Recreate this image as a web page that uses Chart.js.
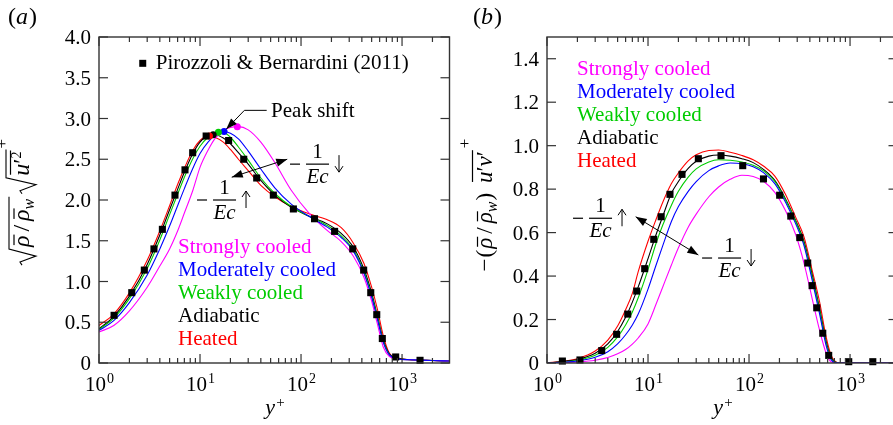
<!DOCTYPE html>
<html>
<head>
<meta charset="utf-8">
<script src="https://cdn.jsdelivr.net/npm/chart.js@4.4.1/dist/chart.umd.min.js"></script>
<style>
  html, body { margin: 0; padding: 0; background: #fff; width: 893px; height: 425px; overflow: hidden; position: relative; }
  #chartA { position: absolute; left: 0; top: 0; }
  #chartB { position: absolute; left: 455px; top: 0; }
</style>
</head>
<body>
<canvas id="chartA" width="455" height="425"></canvas>
<canvas id="chartB" width="450" height="425"></canvas>
<script>
// ---- data ----
const caseNames = ['Strongly cooled', 'Moderately cooled', 'Weakly cooled', 'Adiabatic', 'Heated'];
const caseColors = ['#ff00ff', '#0000ff', '#00cc00', '#000000', '#ff0000'];

// panel (a): sqrt(rho/rho_w) u'rms
const yPlusA     = [1, 1.4, 2, 3, 4, 5, 6, 7, 8.5, 10, 12, 14, 17, 20, 24, 30, 40, 55, 80, 120, 180, 250, 330, 420, 500, 570, 650, 750, 900, 1200, 2000, 2950];
const strongA    = [0.38, 0.46, 0.64, 0.93, 1.19, 1.40, 1.62, 1.84, 2.12, 2.40, 2.61, 2.75, 2.85, 2.89, 2.90, 2.86, 2.71, 2.46, 2.12, 1.84, 1.63, 1.49, 1.31, 1.05, 0.76, 0.48, 0.20, 0.08, 0.05, 0.04, 0.03, 0.025];
const moderateA  = [0.40, 0.52, 0.74, 1.08, 1.40, 1.68, 1.93, 2.14, 2.39, 2.57, 2.71, 2.79, 2.84, 2.82, 2.75, 2.60, 2.38, 2.15, 1.95, 1.80, 1.67, 1.54, 1.37, 1.10, 0.81, 0.54, 0.26, 0.10, 0.05, 0.04, 0.03, 0.025];
const weakA      = [0.41, 0.55, 0.79, 1.16, 1.51, 1.82, 2.07, 2.28, 2.51, 2.66, 2.77, 2.82, 2.83, 2.77, 2.65, 2.49, 2.27, 2.08, 1.92, 1.80, 1.69, 1.56, 1.39, 1.12, 0.83, 0.56, 0.27, 0.10, 0.05, 0.04, 0.03, 0.025];
const adiabaticA = [0.42, 0.57, 0.82, 1.21, 1.57, 1.88, 2.13, 2.34, 2.57, 2.71, 2.79, 2.80, 2.76, 2.69, 2.58, 2.44, 2.24, 2.06, 1.91, 1.80, 1.71, 1.59, 1.42, 1.15, 0.86, 0.58, 0.29, 0.11, 0.06, 0.04, 0.03, 0.025];
const heatedA    = [0.46, 0.60, 0.86, 1.26, 1.62, 1.93, 2.19, 2.39, 2.61, 2.73, 2.785, 2.77, 2.71, 2.62, 2.50, 2.36, 2.18, 2.04, 1.92, 1.83, 1.76, 1.66, 1.47, 1.22, 0.93, 0.66, 0.34, 0.12, 0.06, 0.04, 0.03, 0.025];
// peak locations (strongly, moderately, weakly, adiabatic, heated)
const peakYPlus = [23.4, 17.3, 15.2, 13.5, 12.4];
const peakValue = [2.90, 2.84, 2.83, 2.80, 2.785];
// Pirozzoli & Bernardini (2011)
const refYPlusA = [1.41, 2.11, 2.81, 3.5, 4.24, 5.65, 7.1, 8.46, 11.5, 19.2, 27.1, 36.4, 53.2, 84, 136, 215, 325, 417, 490, 562, 638, 865, 1507];
const refValueA = [0.585, 0.863, 1.14, 1.40, 1.64, 2.06, 2.37, 2.58, 2.785, 2.73, 2.50, 2.27, 2.06, 1.89, 1.77, 1.615, 1.40, 1.14, 0.863, 0.593, 0.30, 0.074, 0.033];

// panel (b): -(rho/rho_w) u'v'
const yPlusB     = [1, 1.5, 2, 3, 4, 5, 6, 7, 8, 10, 12, 14, 17, 20, 25, 30, 40, 50, 65, 85, 110, 140, 180, 230, 290, 350, 420, 500, 580, 650, 720, 800, 1000, 2000, 2950];
const strongB    = [0, 0.002, 0.005, 0.013, 0.025, 0.042, 0.062, 0.087, 0.115, 0.18, 0.27, 0.35, 0.45, 0.53, 0.625, 0.685, 0.765, 0.81, 0.845, 0.864, 0.858, 0.835, 0.785, 0.70, 0.59, 0.46, 0.30, 0.15, 0.045, 0.005, 0, 0, 0, 0, 0];
const moderateB  = [0, 0.004, 0.009, 0.026, 0.052, 0.088, 0.13, 0.175, 0.225, 0.34, 0.45, 0.54, 0.65, 0.72, 0.79, 0.835, 0.885, 0.907, 0.92, 0.917, 0.903, 0.875, 0.825, 0.74, 0.64, 0.54, 0.385, 0.225, 0.08, 0.015, 0.002, 0, 0, 0, 0];
const weakB      = [0, 0.006, 0.013, 0.036, 0.072, 0.12, 0.175, 0.235, 0.30, 0.43, 0.55, 0.635, 0.725, 0.79, 0.855, 0.893, 0.925, 0.935, 0.933, 0.925, 0.91, 0.883, 0.835, 0.75, 0.65, 0.55, 0.40, 0.24, 0.09, 0.02, 0.003, 0, 0, 0, 0];
const adiabaticB = [0, 0.008, 0.016, 0.045, 0.088, 0.145, 0.21, 0.28, 0.35, 0.48, 0.59, 0.675, 0.78, 0.835, 0.895, 0.928, 0.952, 0.957, 0.952, 0.94, 0.922, 0.89, 0.84, 0.755, 0.655, 0.56, 0.41, 0.25, 0.10, 0.025, 0.004, 0, 0, 0, 0];
const heatedB    = [0, 0.009, 0.02, 0.055, 0.105, 0.17, 0.245, 0.32, 0.42, 0.56, 0.66, 0.74, 0.825, 0.875, 0.93, 0.958, 0.978, 0.98, 0.97, 0.955, 0.935, 0.905, 0.86, 0.775, 0.67, 0.58, 0.43, 0.28, 0.12, 0.035, 0.006, 0, 0, 0, 0];
const refYPlusB = [1.42, 2.12, 3.48, 4.89, 6.3, 7.73, 9.27, 11.4, 13.5, 16.5, 21.7, 31.5, 52.8, 86.6, 139, 201, 259, 318, 381, 421, 468, 537, 615, 971, 1680];
const refValueB = [0.009, 0.014, 0.057, 0.132, 0.225, 0.331, 0.434, 0.569, 0.673, 0.776, 0.868, 0.940, 0.954, 0.908, 0.847, 0.772, 0.676, 0.577, 0.460, 0.356, 0.254, 0.137, 0.035, 0.006, 0.006];

const xDecades = [1, 10, 100, 1000];
const xExponents = ['0', '1', '2', '3'];
const yTicksA = [0, 0.5, 1.0, 1.5, 2.0, 2.5, 3.0, 3.5, 4.0];
const yTicksB = [0, 0.2, 0.4, 0.6, 0.8, 1.0, 1.2, 1.4];

const serif = '"Liberation Serif", "Times New Roman", serif';

// ---- helpers ----
function pts(xs, ys) { return xs.map((x, i) => ({ x: x, y: ys[i] })); }

function curve(i, xs, ys) {
  return {
    label: caseNames[i], data: pts(xs, ys),
    borderColor: caseColors[i], backgroundColor: caseColors[i],
    borderWidth: 1.1, pointRadius: 0, fill: false,
    cubicInterpolationMode: 'monotone'
  };
}

function refMarks(xs, ys) {
  return {
    label: 'Pirozzoli & Bernardini (2011)', data: pts(xs, ys),
    showLine: false, pointStyle: 'rect', pointRadius: 5,
    pointBackgroundColor: '#000', pointBorderWidth: 0, clip: false
  };
}

function line(ctx, x1, y1, x2, y2) {
  ctx.beginPath(); ctx.moveTo(x1, y1); ctx.lineTo(x2, y2); ctx.stroke();
}

function head(ctx, xf, yf, xt, yt) {
  const a = Math.atan2(yt - yf, xt - xf), L = 11, W = 4;
  ctx.beginPath();
  ctx.moveTo(xt, yt);
  ctx.lineTo(xt - L * Math.cos(a) + W * Math.sin(a), yt - L * Math.sin(a) - W * Math.cos(a));
  ctx.lineTo(xt - L * Math.cos(a) - W * Math.sin(a), yt - L * Math.sin(a) + W * Math.cos(a));
  ctx.closePath(); ctx.fill();
}

// "- 1/Ec" with an up or down arrow; x0 = left of minus, yb = fraction bar
function ecLabel(ctx, x0, yb, up) {
  ctx.save();
  ctx.fillStyle = '#000'; ctx.strokeStyle = '#000'; ctx.lineWidth = 1;
  ctx.textAlign = 'center'; ctx.textBaseline = 'alphabetic';
  ctx.fillRect(x0, yb - 0.6, 10, 1.2);
  ctx.fillRect(x0 + 16, yb - 0.6, 23, 1.2);
  ctx.font = '21px ' + serif;
  ctx.fillText('1', x0 + 27.5, yb - 6);
  ctx.font = 'italic 21px ' + serif;
  ctx.fillText('Ec', x0 + 27.5, yb + 19);
  const ax = x0 + 49, t = yb - 9, b = yb + 8;
  line(ctx, ax, t, ax, b);
  if (up) { line(ctx, ax - 4, t + 6, ax, t); line(ctx, ax + 4, t + 6, ax, t); }
  else { line(ctx, ax - 4, b - 6, ax, b); line(ctx, ax + 4, b - 6, ax, b); }
  ctx.restore();
}

function frame(chart, yTicks) {
  const { ctx, chartArea: a, scales: { x, y } } = chart;
  ctx.save();
  ctx.strokeStyle = '#333'; ctx.lineWidth = 1.4;
  ctx.strokeRect(a.left, a.top, a.right - a.left, a.bottom - a.top);
  ctx.lineWidth = 1.2;
  xDecades.forEach(d => {
    for (let m = 1; m <= 9; m++) {
      const v = m * d;
      if (v > x.max) break;
      const px = x.getPixelForValue(v), len = m === 1 ? 9 : 5;
      line(ctx, px, a.bottom, px, a.bottom - len);
      line(ctx, px, a.top, px, a.top + len);
    }
  });
  yTicks.forEach(v => {
    const py = y.getPixelForValue(v);
    line(ctx, a.left, py, a.left + 9, py);
    line(ctx, a.right, py, a.right - 9, py);
  });
  ctx.fillStyle = '#000';
  ctx.textBaseline = 'alphabetic';
  ctx.font = '21px ' + serif;
  ctx.textAlign = 'right';
  yTicks.forEach(v => {
    ctx.fillText(v === 0 ? '0' : v.toFixed(1), a.left - 8, y.getPixelForValue(v) + 7);
  });
  ctx.textAlign = 'left';
  xDecades.forEach((d, i) => {
    const px = x.getPixelForValue(d);
    ctx.font = '21px ' + serif;
    const w1 = ctx.measureText('10').width;
    ctx.font = '14px ' + serif;
    const w2 = ctx.measureText(xExponents[i]).width;
    const x0 = px - (w1 + w2) / 2;
    ctx.font = '21px ' + serif;
    ctx.fillText('10', x0, a.bottom + 28);
    ctx.font = '14px ' + serif;
    ctx.fillText(xExponents[i], x0 + w1 + 1, a.bottom + 20);
  });
  // x title y+
  const cx = (a.left + a.right) / 2;
  ctx.font = 'italic 22px ' + serif;
  ctx.fillText('y', cx - 9, a.bottom + 51);
  ctx.font = '15px ' + serif;
  ctx.fillText('+', cx + 2, a.bottom + 44);
  ctx.restore();
}

function panelLabel(ctx, x, letter) {
  ctx.save();
  ctx.fillStyle = '#000'; ctx.textAlign = 'left'; ctx.textBaseline = 'alphabetic';
  ctx.font = '24px ' + serif;
  ctx.fillText('(', x, 24);
  let u = x + ctx.measureText('(').width;
  ctx.font = 'italic 24px ' + serif;
  ctx.fillText(letter, u, 24);
  u += ctx.measureText(letter).width + 1;
  ctx.font = '24px ' + serif;
  ctx.fillText(')', u, 24);
  ctx.restore();
}

function legendText(ctx, x, yb) {
  ctx.save();
  ctx.font = '21px ' + serif; ctx.textAlign = 'left'; ctx.textBaseline = 'alphabetic';
  caseNames.forEach((n, i) => { ctx.fillStyle = caseColors[i]; ctx.fillText(n, x, yb + i * 23); });
  ctx.restore();
}

// rotated math titles, laid out twice: once to measure, once to draw
function rotatedTitle(ctx, cx, cy, layout) {
  ctx.save();
  ctx.translate(cx, cy); ctx.rotate(-Math.PI / 2);
  ctx.fillStyle = '#000'; ctx.strokeStyle = '#000'; ctx.lineWidth = 1.1;
  ctx.textAlign = 'left'; ctx.textBaseline = 'alphabetic';
  const w = layout(false);
  ctx.translate(-w / 2, 0);
  layout(true);
  ctx.restore();
}

function mathWriter(ctx, draw) {
  const st = { u: 0 };
  st.txt = (s, font, dv) => {
    ctx.font = font;
    if (draw) ctx.fillText(s, st.u, dv || 0);
    st.u += ctx.measureText(s).width;
  };
  st.bar = (u1, u2, v) => { if (draw) ctx.fillRect(u1, v - 0.6, u2 - u1, 1.2); };
  st.rad = (u1, u2, v) => {
    if (!draw) return;
    ctx.beginPath();
    ctx.moveTo(u1, -7); ctx.lineTo(u1 + 3, -9); ctx.lineTo(u1 + 9, 7);
    ctx.lineTo(u1 + 16, v); ctx.lineTo(u2, v); ctx.stroke();
  };
  return st;
}

function titleA(ctx) {
  rotatedTitle(ctx, 29, 202, draw => {
    const fI = 'italic 24px ' + serif, fR = '24px ' + serif;
    const m = mathWriter(ctx, draw);
    const r1 = m.u; m.u += 18;
    let s = m.u; m.txt('ρ', fI); m.bar(s + 2, m.u + 1, -15);
    m.u += 4; m.txt('/', fR); m.u += 4;
    s = m.u; m.txt('ρ', fI); m.bar(s + 2, m.u + 1, -15);
    m.txt('w', 'italic 16px ' + serif, 5);
    m.rad(r1, m.u + 2, -20);
    m.u += 5;
    const r2 = m.u; m.u += 18;
    s = m.u; m.txt('u', fI); m.txt('′', fR); m.txt('2', '14px ' + serif, -8);
    m.bar(s + 1, m.u + 1, -18.5);
    m.rad(r2, m.u + 2, -23);
    m.u += 3; m.txt('+', '17px ' + serif, -22);
    return m.u;
  });
}

function titleB(ctx) {
  rotatedTitle(ctx, 37, 205, draw => {
    const fI = 'italic 23px ' + serif, fR = '23px ' + serif;
    const m = mathWriter(ctx, draw);
    m.txt('−', fR); m.u += 1;
    m.txt('(', fR); m.u += 1;
    let s = m.u; m.txt('ρ', fI); m.bar(s + 2, m.u + 1, -14.5);
    m.u += 4; m.txt('/', fR); m.u += 4;
    s = m.u; m.txt('ρ', fI); m.bar(s + 2, m.u + 1, -14.5);
    m.txt('w', 'italic 16px ' + serif, 5);
    m.u += 1; m.txt(')', fR);
    m.u += 10;
    s = m.u; m.txt('u', fI); m.txt('′', fR); m.txt('v', fI); m.txt('′', fR);
    m.bar(s + 1, m.u + 1, -19.5);
    m.u += 3; m.txt('+', '17px ' + serif, -22);
    return m.u;
  });
}

// ---- panel (a) ----
const decorA = {
  id: 'decorA',
  afterDatasetsDraw(chart) {
    const { ctx, scales: { x, y } } = chart;
    const P = (vx, vy) => [x.getPixelForValue(vx), y.getPixelForValue(vy)];
    frame(chart, yTicksA);
    ctx.save();
    ctx.fillStyle = '#000'; ctx.strokeStyle = '#000'; ctx.lineWidth = 1;
    // reference legend entry
    const [mx, my] = P(2.71, 3.677);
    ctx.fillRect(mx - 3.5, my - 3.5, 7, 7);
    ctx.font = '21px ' + serif; ctx.textAlign = 'left'; ctx.textBaseline = 'alphabetic';
    ctx.fillText('Pirozzoli & Bernardini (2011)', mx + 13, my + 6);
    // peak shift
    const [tx, ty] = P(50.5, 3.022);
    ctx.fillText('Peak shift', tx, ty);
    const p0 = P(45.7, 3.10), p1 = P(27.5, 3.10), p2 = P(18.2, 2.87);
    ctx.beginPath(); ctx.moveTo(p0[0], p0[1]); ctx.lineTo(p1[0], p1[1]); ctx.lineTo(p2[0], p2[1]); ctx.stroke();
    head(ctx, p1[0], p1[1], p2[0], p2[1]);
    // double arrow
    const a1 = P(20.6, 2.28), a2 = P(73, 2.50);
    line(ctx, a1[0], a1[1], a2[0], a2[1]);
    head(ctx, a1[0], a1[1], a2[0], a2[1]);
    head(ctx, a2[0], a2[1], a1[0], a1[1]);
    const e1 = P(77.8, 2.44), e2 = P(9.34, 2.0);
    ecLabel(ctx, e1[0], e1[1], false);
    ecLabel(ctx, e2[0], e2[1], true);
    ctx.restore();
    const [lx, ly] = P(6.06, 1.35);
    legendText(ctx, lx, ly);
    titleA(ctx);
    panelLabel(ctx, 8, 'a');
  }
};

const peaks = {
  label: 'peaks', data: pts(peakYPlus, peakValue), showLine: false,
  pointRadius: 3.5, pointBorderWidth: 0, pointBackgroundColor: caseColors.slice()
};

new Chart(document.getElementById('chartA'), {
  type: 'line',
  data: {
    datasets: [
      refMarks(refYPlusA, refValueA),
      peaks,
      curve(1, yPlusA, moderateA),
      curve(0, yPlusA, strongA),
      curve(2, yPlusA, weakA),
      curve(3, yPlusA, adiabaticA),
      curve(4, yPlusA, heatedA)
    ]
  },
  options: {
    responsive: false, animation: false, events: [],
    layout: { padding: { left: 99, top: 37, right: 5.5, bottom: 62 } },
    plugins: { legend: { display: false }, tooltip: { enabled: false } },
    scales: {
      x: { type: 'logarithmic', min: 1, max: 2950, display: false },
      y: { type: 'linear', min: 0, max: 4, display: false }
    }
  },
  plugins: [decorA]
});

// ---- panel (b) ----
const decorB = {
  id: 'decorB',
  afterDatasetsDraw(chart) {
    const { ctx, scales: { x, y } } = chart;
    const P = (vx, vy) => [x.getPixelForValue(vx), y.getPixelForValue(vy)];
    frame(chart, yTicksB);
    ctx.save();
    ctx.fillStyle = '#000'; ctx.strokeStyle = '#000'; ctx.lineWidth = 1;
    const a1 = P(7.55, 0.673), a2 = P(31.5, 0.497);
    line(ctx, a1[0], a1[1], a2[0], a2[1]);
    head(ctx, a1[0], a1[1], a2[0], a2[1]);
    head(ctx, a2[0], a2[1], a1[0], a1[1]);
    const e1 = P(1.81, 0.666), e2 = P(34.3, 0.483);
    ecLabel(ctx, e1[0], e1[1], true);
    ecLabel(ctx, e2[0], e2[1], false);
    ctx.restore();
    const [lx, ly] = P(1.98, 1.323);
    legendText(ctx, lx, ly);
    titleB(ctx);
    panelLabel(ctx, 18, 'b');
  }
};

new Chart(document.getElementById('chartB'), {
  type: 'line',
  data: {
    datasets: [
      refMarks(refYPlusB, refValueB),
      curve(1, yPlusB, moderateB),
      curve(0, yPlusB, strongB),
      curve(2, yPlusB, weakB),
      curve(3, yPlusB, adiabaticB),
      curve(4, yPlusB, heatedB)
    ]
  },
  options: {
    responsive: false, animation: false, events: [],
    layout: { padding: { left: 92, top: 37, right: 7.5, bottom: 62 } },
    plugins: { legend: { display: false }, tooltip: { enabled: false } },
    scales: {
      x: { type: 'logarithmic', min: 1, max: 2950, display: false },
      y: { type: 'linear', min: 0, max: 1.5, display: false }
    }
  },
  plugins: [decorB]
});
</script>
</body>
</html>
